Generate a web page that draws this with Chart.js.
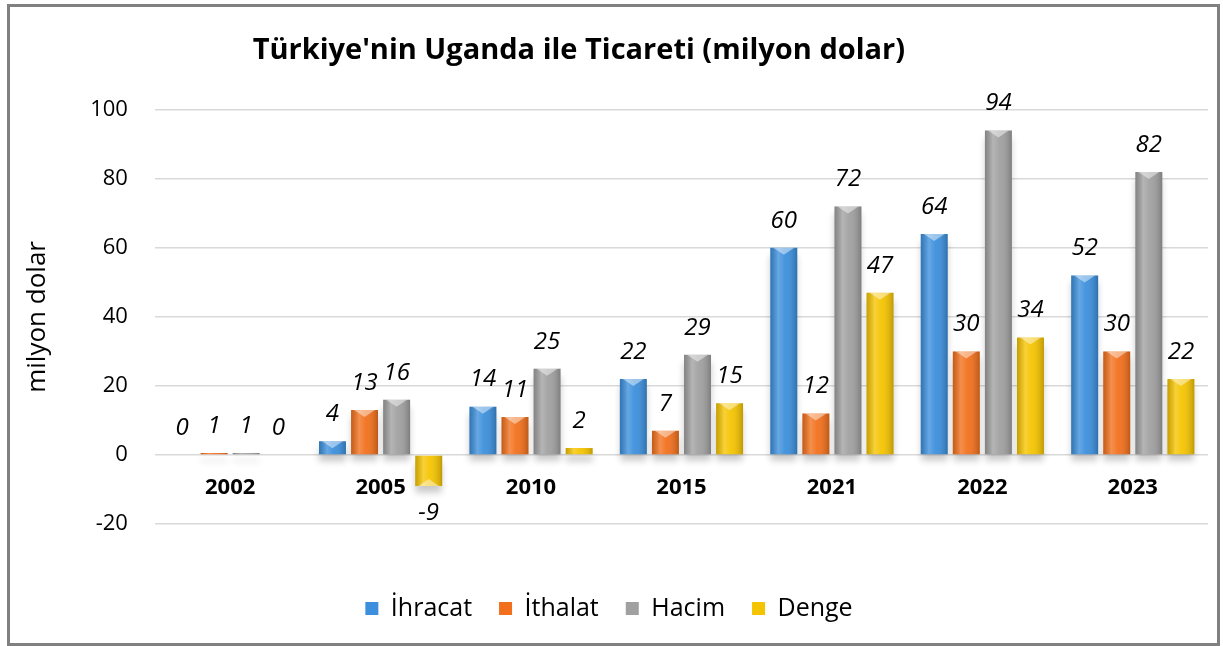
<!DOCTYPE html>
<html>
<head>
<meta charset="utf-8">
<script src="https://cdn.jsdelivr.net/npm/chart.js@4/dist/chart.umd.min.js"></script>
<style>
  html, body { margin: 0; padding: 0; background: #fff; }
  #wrap { position: relative; width: 1223px; height: 646px; }
  #frame {
    position: absolute; left: 7px; top: 4px; width: 1213px; height: 642px;
    box-sizing: border-box; border: 3px solid #808080; pointer-events: none;
  }
</style>
</head>
<body>
<div id="wrap">
  <canvas id="tradeChart"></canvas>
  <div id="frame"></div>
</div>
<script>
  // yıllar ve değerler (milyon dolar)
  const years = ['2002', '2005', '2010', '2015', '2021', '2022', '2023'];
  const ihracat = [0, 4, 14, 22, 60, 64, 52];
  const ithalat = [0.6, 13, 11, 7, 12, 30, 30];
  const hacim = [0.6, 16, 25, 29, 72, 94, 82];
  const denge = [0, -9, 2, 15, 47, 34, 22];
  const yTicks = [-20, 0, 20, 40, 60, 80, 100];

  const FONT = "'Open Sans', 'Noto Sans', sans-serif";

  // soft shadow under the bars
  const barShadow = {
    id: 'barShadow',
    beforeDatasetsDraw(chart) {
      const ctx = chart.ctx;
      ctx.save();
      ctx.shadowColor = 'rgba(0,0,0,0.22)';
      ctx.shadowBlur = 7;
      ctx.shadowOffsetY = 7;
    },
    afterDatasetsDraw(chart) {
      chart.ctx.restore();
    }
  };

  // glossy cylinder look + value labels
  const barDecor = {
    id: 'barDecor',
    afterDatasetsDraw(chart) {
      const ctx = chart.ctx;
      ctx.save();
      chart.data.datasets.forEach((ds, di) => {
        const meta = chart.getDatasetMeta(di);
        meta.data.forEach((bar, i) => {
          const left = bar.x - bar.width / 2;
          const top = Math.min(bar.y, bar.base);
          const h = Math.abs(bar.base - bar.y);
          if (h > 0.5) {
            const g = ctx.createLinearGradient(left, 0, left + bar.width, 0);
            g.addColorStop(0, 'rgba(0,0,0,0.18)');
            g.addColorStop(0.3, 'rgba(255,255,255,0.22)');
            g.addColorStop(0.55, 'rgba(255,255,255,0.05)');
            g.addColorStop(1, 'rgba(0,0,0,0.22)');
            ctx.fillStyle = g;
            ctx.fillRect(left, top, bar.width, h);
            // light notch at the top end of the bar
            if (h > 8) {
              const ty = bar.y;
              const d = ds.data[i] < 0 ? -1 : 1;
              ctx.fillStyle = 'rgba(255,255,255,0.45)';
              ctx.beginPath();
              ctx.moveTo(left + 3, ty);
              ctx.lineTo(left + bar.width - 3, ty);
              ctx.lineTo(bar.x, ty + d * 7);
              ctx.closePath();
              ctx.fill();
            }
          }
          const v = ds.data[i];
          const txt = String(Math.round(v));
          ctx.font = 'italic 24px ' + FONT;
          ctx.fillStyle = '#000';
          ctx.textAlign = 'center';
          ctx.textBaseline = 'middle';
          const y = v < 0 ? bar.y + 27 : bar.y - 27;
          ctx.fillText(txt, bar.x, y);
        });
      });
      ctx.restore();
    }
  };

  const ctx = document.getElementById('tradeChart').getContext('2d');
  new Chart(ctx, {
    type: 'bar',
    data: {
      labels: years,
      datasets: [
        { label: 'İhracat', data: ihracat, backgroundColor: '#3b8fdc' },
        { label: 'İthalat', data: ithalat, backgroundColor: '#f2701c' },
        { label: 'Hacim', data: hacim, backgroundColor: '#a0a0a0' },
        { label: 'Denge', data: denge, backgroundColor: '#f5c400' }
      ]
    },
    options: {
      responsive: true,
      maintainAspectRatio: false,
      animation: false,
      datasets: {
        bar: { categoryPercentage: 0.853, barPercentage: 0.84, borderWidth: 0 }
      },
      layout: { padding: { left: 10, right: 15, top: 0, bottom: 15 } },
      plugins: {
        title: {
          display: true,
          // trailing spaces nudge the centred title left, as in the original
          text: "Türkiye'nin Uganda ile Ticareti (milyon dolar)        ",
          color: '#000',
          font: { family: FONT, size: 29, weight: 'bold' },
          padding: { top: 33, bottom: 42 }
        },
        legend: {
          position: 'bottom',
          title: { display: true, text: '', font: { size: 12 }, padding: 15.3 },
          labels: {
            color: '#000',
            font: { family: FONT, size: 25 },
            boxWidth: 13,
            boxHeight: 13,
            padding: 27
          }
        },
        tooltip: { enabled: false }
      },
      scales: {
        x: {
          position: { y: 0 },
          grid: { display: false, drawTicks: false },
          border: { display: false },
          ticks: {
            color: '#000',
            font: { family: FONT, size: 22, weight: 'bold' },
            padding: 20
          }
        },
        y: {
          min: -20,
          max: 100,
          afterBuildTicks(axis) {
            axis.ticks = yTicks.map(v => ({ value: v }));
          },
          grid: { color: '#d9d9d9', lineWidth: 1.5, drawTicks: false },
          border: { display: false },
          ticks: {
            color: '#000',
            font: { family: FONT, size: 22 },
            padding: 27
          },
          title: {
            display: true,
            text: 'milyon dolar',
            color: '#000',
            font: { family: FONT, size: 26 },
            padding: { top: 12, bottom: 10 }
          }
        }
      }
    },
    plugins: [barShadow, barDecor]
  });
</script>
</body>
</html>
